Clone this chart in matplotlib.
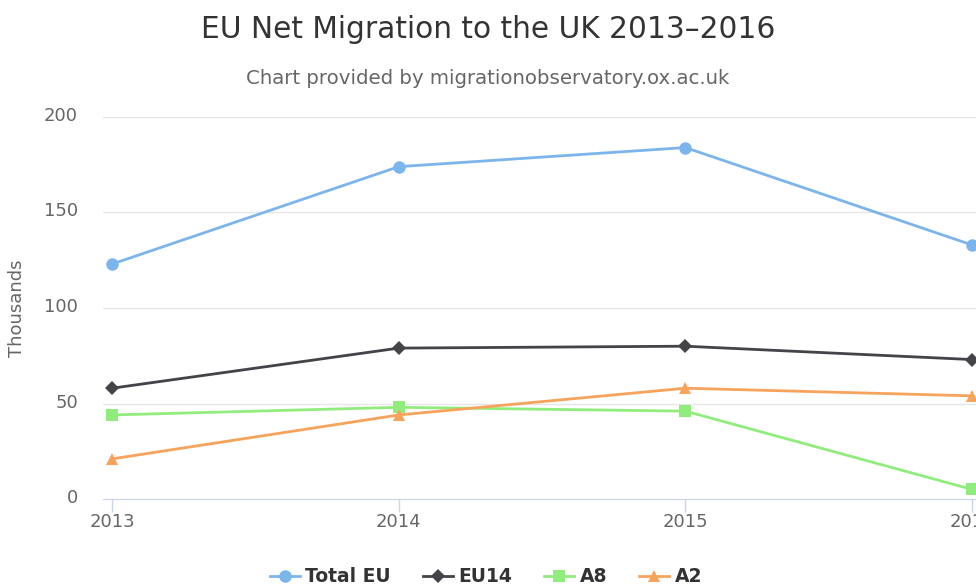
import numpy as np
import matplotlib
matplotlib.use("Agg")
import matplotlib.pyplot as plt
import matplotlib.transforms as mtransforms
from matplotlib.lines import Line2D

# == 데이터 ====================================================================
years    = [2013, 2014, 2015, 2016]
total_eu = [123, 174, 184, 133]
eu14     = [58, 79, 80, 73]
a8       = [44, 48, 46, 5]
a2       = [21, 44, 58, 54]
y_ticks  = [0, 50, 100, 150, 200]

series = [
    ('Total EU', total_eu, '#7cb5ec', 'o', 9),
    ('EU14',     eu14,     '#434348', 'D', 7),
    ('A8',       a8,       '#90ed7d', 's', 9),
    ('A2',       a2,       '#f7a35c', '^', 9),
]

plt.rcParams['font.family'] = ['DejaVu Sans']

fig = plt.figure(figsize=(9.76, 5.88), dpi=100)
ax = fig.add_axes([103/976, 1 - 499/588, 1 - 103/976, (499 - 117)/588])

handles = []
for name, vals, color, marker, ms in series:
    ax.plot(years, vals, color=color, lw=2, marker=marker, markersize=ms,
            markeredgewidth=0, zorder=3)
    handles.append(Line2D([], [], color=color, lw=2, marker=marker,
                          markersize=ms, markeredgewidth=0))

ax.set_xlim(2013 - 9/286.7, 2013 + (976 - 112)/286.7)
ax.set_ylim(0, 200)
ax.set_xticks(years)
ax.set_xticklabels([str(y) for y in years])
ax.set_yticks(y_ticks)
ax.grid(True, axis='y', color='#e6e6e6', lw=1)
ax.set_axisbelow(True)
for s in ['top', 'right', 'left']:
    ax.spines[s].set_visible(False)
ax.spines['bottom'].set_color('#ccd6eb')
ax.tick_params(axis='x', colors='#ccd6eb', length=9, width=1, labelcolor='#666666',
               labelsize=13, pad=1)
ax.tick_params(axis='y', length=0, labelcolor='#666666', labelsize=13, pad=18)
# 라벨을 그리드선 살짝 위로
shift = mtransforms.ScaledTranslation(0, 3/100, fig.dpi_scale_trans)
for lbl in ax.get_yticklabels():
    lbl.set_transform(lbl.get_transform() + shift)
ax.set_ylabel("Thousands", color='#666666', fontsize=13)
ax.yaxis.set_label_coords((26 - 103)/873, (499 - 308)/382)

fig.text(0.5, 1 - 29/588, "EU Net Migration to the UK 2013–2016", ha='center', va='center',
         fontsize=21.3, color='#333333')
fig.text(0.5, 1 - 79/588, "Chart provided by migrationobservatory.ox.ac.uk", ha='center',
         va='center', fontsize=14.2, color='#666666')

fig.legend(handles, [s[0] for s in series], loc='center', bbox_to_anchor=(0.498, 1 - 577/588),
           ncol=4, frameon=False, prop={'weight': 'bold', 'size': 13.5},
           labelcolor='#333333', handlelength=1.6, columnspacing=1.7, handletextpad=0.3)

plt.savefig("out.png", dpi=100)
plt.close()
